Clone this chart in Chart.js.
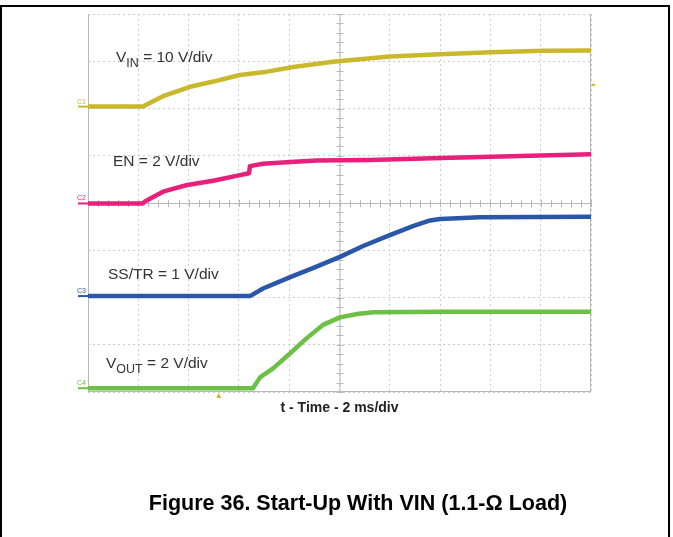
<!DOCTYPE html>
<html>
<head>
<meta charset="utf-8">
<script src="https://cdn.jsdelivr.net/npm/chart.js@4"></script>
<style>
  html, body { margin: 0; padding: 0; background: #fff; }
  #wrap { position: relative; width: 673px; height: 537px; overflow: hidden; }
  #frame { position: absolute; left: 0; top: 5px; width: 666px; height: 540px;
           border-top: 2px solid #000; border-left: 2px solid #000; border-right: 2px solid #000; }
  #caption { position: absolute; left: 0; width: 716px; top: 491px; text-align: center;
             font: bold 21.5px "Liberation Sans", Arial, sans-serif; color: #000; }
  canvas { position: absolute; left: 0; top: 0; }
</style>
</head>
<body>
<div id="wrap">
  <div id="frame"></div>
  <canvas id="scope" width="673" height="537"></canvas>
  <div id="caption">Figure 36. Start-Up With VIN (1.1-Ω Load)</div>
</div>
<script>
// tiempo en ms (2 ms/div), amplitud en divisiones de pantalla
var vinT = [0, 2.18, 2.98, 4.06, 4.98, 6.04, 7.12, 8.16, 9.74, 12.0, 14.0, 16.0, 18.1, 20];
var vinV = [6.04, 6.04, 6.26, 6.46, 6.57, 6.71, 6.78, 6.88, 6.99, 7.10, 7.15, 7.19, 7.22, 7.23];

var enT = [0, 2.18, 2.26, 2.98, 3.94, 4.98, 6.04, 6.40, 6.44, 6.96, 8.04, 9.10, 11.22, 14.04, 16.02, 20];
var enV = [3.99, 3.99, 4.03, 4.24, 4.38, 4.47, 4.59, 4.63, 4.78, 4.83, 4.87, 4.90, 4.91, 4.95, 4.98, 5.03];

var ssT = [0, 6.44, 6.96, 8.04, 8.94, 10.02, 10.94, 12.0, 12.92, 13.6, 14.0, 15.58, 20];
var ssV = [2.03, 2.03, 2.19, 2.43, 2.62, 2.86, 3.09, 3.32, 3.51, 3.63, 3.66, 3.70, 3.71];

var voutT = [0, 6.56, 6.84, 7.36, 8.04, 8.70, 9.34, 10.02, 10.70, 11.34, 14.0, 20];
var voutV = [0.08, 0.08, 0.31, 0.50, 0.82, 1.14, 1.42, 1.58, 1.65, 1.69, 1.70, 1.70];

var canales = ['C1', 'C2', 'C3', 'C4'];
var etiquetas = [
    { main: 'V', sub: 'IN', rest: ' = 10 V/div', x: 116, y: 62 },
    { main: 'EN = 2 V/div', sub: '', rest: '', x: 113, y: 166 },
    { main: 'SS/TR = 1 V/div', sub: '', rest: '', x: 108, y: 279 },
    { main: 'V', sub: 'OUT', rest: ' = 2 V/div', x: 106, y: 368 }
];
var colores = ['#c9b82c', '#e8207c', '#2b57a8', '#6cc046'];

function serie(t, v) {
    return t.map(function(x, i) { return { x: x, y: v[i] }; });
}

var FONT = '"Liberation Sans", Arial, sans-serif';

var scopePlugin = {
    id: 'scope',
    beforeDatasetsDraw: function(chart) {
        var ctx = chart.ctx, a = chart.chartArea;
        var sx = chart.scales.x, sy = chart.scales.y;
        var cx = sx.getPixelForValue(10), cy = sy.getPixelForValue(4);
        ctx.save();
        ctx.strokeStyle = '#b8b8b8';
        ctx.lineWidth = 1;
        ctx.beginPath();
        ctx.moveTo(cx + 0.5, a.top); ctx.lineTo(cx + 0.5, a.bottom);
        ctx.moveTo(a.left, cy + 0.5); ctx.lineTo(a.right, cy + 0.5);
        ctx.moveTo(a.left + 0.5, a.top); ctx.lineTo(a.left + 0.5, a.bottom);
        ctx.moveTo(a.right - 0.5, a.top); ctx.lineTo(a.right - 0.5, a.bottom);
        ctx.moveTo(a.left, a.bottom - 0.5); ctx.lineTo(a.right, a.bottom - 0.5);
        for (var i = 0; i <= 50; i++) {
            var px = Math.round(sx.getPixelForValue(i * 0.4)) + 0.5;
            ctx.moveTo(px, cy - 3); ctx.lineTo(px, cy + 4);
        }
        for (var j = 0; j <= 40; j++) {
            var py = Math.round(sy.getPixelForValue(j * 0.2)) + 0.5;
            ctx.moveTo(cx - 3, py); ctx.lineTo(cx + 4, py);
        }
        ctx.stroke();
        ctx.restore();
    },
    afterDraw: function(chart) {
        var ctx = chart.ctx, a = chart.chartArea;
        var sx = chart.scales.x, sy = chart.scales.y;
        var bases = [vinV[0], enV[0], ssV[0], voutV[0]];
        ctx.save();
        // marcadores de canal
        ctx.font = '7px ' + FONT;
        bases.forEach(function(b, i) {
            var py = sy.getPixelForValue(b);
            ctx.fillStyle = colores[i];
            ctx.fillText(canales[i], a.left - 11, py - 3);
            ctx.fillRect(a.left - 10, py - 1, 10, 2);
        });
        // disparo
        var tx = sx.getPixelForValue(5.2);
        ctx.fillStyle = '#c9b82c';
        ctx.beginPath();
        ctx.moveTo(tx - 2.5, a.bottom + 6); ctx.lineTo(tx + 2.5, a.bottom + 6); ctx.lineTo(tx, a.bottom + 1);
        ctx.fill();
        ctx.fillRect(a.right + 1, sy.getPixelForValue(6.5) - 1, 3, 2);
        // etiquetas de canal
        ctx.fillStyle = '#333';
        etiquetas.forEach(function(e) {
            ctx.font = '15.5px ' + FONT;
            ctx.fillText(e.main, e.x, e.y);
            var x = e.x + ctx.measureText(e.main).width;
            if (e.sub) {
                ctx.font = '12.5px ' + FONT;
                ctx.fillText(e.sub, x, e.y + 5);
                x += ctx.measureText(e.sub).width;
                ctx.font = '15.5px ' + FONT;
                ctx.fillText(e.rest, x, e.y);
            }
        });
        // eje de tiempo
        ctx.font = 'bold 14px ' + FONT;
        ctx.fillStyle = '#222';
        ctx.textAlign = 'center';
        ctx.fillText('t - Time - 2 ms/div', sx.getPixelForValue(10), a.bottom + 20);
        ctx.restore();
    }
};

var ctx = document.getElementById('scope').getContext('2d');
new Chart(ctx, {
    type: 'line',
    data: {
        datasets: [
            { label: 'VIN', data: serie(vinT, vinV), borderColor: colores[0] },
            { label: 'EN', data: serie(enT, enV), borderColor: colores[1] },
            { label: 'SS/TR', data: serie(ssT, ssV), borderColor: colores[2] },
            { label: 'VOUT', data: serie(voutT, voutV), borderColor: colores[3] }
        ]
    },
    options: {
        responsive: false,
        animation: false,
        layout: { padding: { left: 88, top: 14, right: 82, bottom: 145 } },
        elements: {
            line: { borderWidth: 4.5, tension: 0, fill: false, borderJoinStyle: 'round' },
            point: { radius: 0 }
        },
        plugins: { legend: { display: false }, tooltip: { enabled: false } },
        scales: {
            x: {
                type: 'linear', min: 0, max: 20,
                ticks: { display: false, stepSize: 2 },
                grid: { color: '#cccccc', drawTicks: false },
                border: { display: false, dash: [2, 3] }
            },
            y: {
                type: 'linear', min: 0, max: 8,
                ticks: { display: false, stepSize: 1 },
                grid: { color: '#cccccc', drawTicks: false },
                border: { display: false, dash: [2, 3] }
            }
        }
    },
    plugins: [scopePlugin]
});
</script>
</body>
</html>
